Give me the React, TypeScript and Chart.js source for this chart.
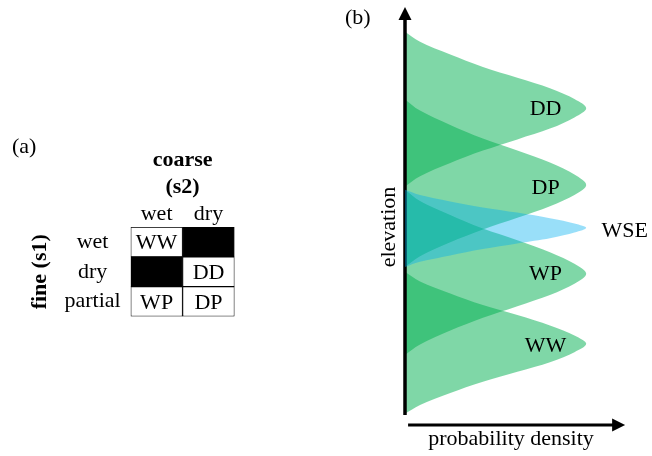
import { useEffect, useRef } from 'react';
import { Chart, registerables } from 'chart.js';

Chart.register(...registerables);

const FONT = "'Liberation Serif', 'Times New Roman', serif";

// ---------- Panel (a): state table ----------
const rowLabels = ['wet', 'dry', 'partial'];
const columnLabels = ['wet', 'dry'];
const columnTickValues = [0.5, 1.5];
const wetColumnRange = [0, 1];
const dryColumnRange = [1, 2];
const wetColumnCells = ['WW', '', 'WP'];
const dryColumnCells = ['', 'DD', 'DP'];
const wetColumnBlocked = [false, true, false];
const dryColumnBlocked = [true, false, false];
const rowAxisTitle = 'fine (s1)';
const columnAxisTitle = ['coarse', '(s2)'];

// ---------- Panel (b): probability density vs elevation ----------
const profileDensity = [0, 0.083, 0.25, 0.43, 0.62, 0.8, 0.935, 1, 0.935, 0.8, 0.62, 0.43, 0.25, 0.083, 0];
const ddElevation = [98.3, 95.8, 92.6, 89.5, 86.8, 84.2, 81.5, 79.2, 76.9, 74.1, 71.4, 68.6, 65.5, 62.2, 59.6];
const dpElevation = [81.4, 78.6, 75.0, 71.6, 68.6, 65.6, 62.6, 60.0, 57.5, 54.7, 51.8, 48.9, 45.7, 42.2, 39.5];
const wseElevation = [58.8, 57.5, 55.9, 54.4, 53.1, 51.7, 50.4, 49.3, 48.1, 46.7, 45.4, 44.0, 42.4, 40.8, 39.5];
const wpElevation = [58.8, 56.0, 52.5, 49.1, 46.2, 43.2, 40.3, 37.8, 35.3, 32.5, 29.7, 26.8, 23.6, 20.1, 17.5];
const wwElevation = [38.3, 35.9, 32.9, 30.0, 27.5, 24.9, 22.4, 20.3, 18.2, 15.7, 13.3, 10.8, 8.0, 5.0, 2.8];
const curveLabels = ['DD', 'DP', 'WSE', 'WP', 'WW'];
const curveLabelDensity = [0.776, 0.776, 1.213, 0.776, 0.776];
const curveLabelElevation = [79.4, 59.6, 48.95, 38.1, 20.2];
const densityMax = 1.17;
const elevationMax = 99;
const elevationAxisExtent = [2.5, 104.5];
const densityAxisExtent = [0.017, 1.215];

const GREEN = 'rgba(0, 176, 80, 0.5)';
const BLUE = 'rgba(0, 176, 240, 0.4)';

const toPoints = (elev: number[]) => profileDensity.map((d, i) => ({ x: d, y: elev[i] }));

export default function App() {
  const aRef = useRef<HTMLCanvasElement>(null);
  const bRef = useRef<HTMLCanvasElement>(null);

  useEffect(() => {
    Chart.defaults.font.family = FONT;
    Chart.defaults.color = '#000';

    const cellTextPlugin = {
      id: 'cellText',
      afterDatasetsDraw(chart: any) {
        const ctx = chart.ctx;
        const texts = [wetColumnCells, dryColumnCells];
        ctx.save();
        ctx.fillStyle = '#000';
        ctx.font = `22px ${FONT}`;
        ctx.textAlign = 'center';
        ctx.textBaseline = 'alphabetic';
        texts.forEach((col, di) => {
          const meta = chart.getDatasetMeta(di);
          meta.data.forEach((bar: any, i: number) => {
            const t = col[i];
            if (!t) return;
            const c = bar.getCenterPoint();
            ctx.fillText(t, c.x, c.y + 7.3);
          });
        });
        ctx.textAlign = 'left';
        ctx.fillText('(a)', 12, 152.5);
        ctx.restore();
      },
    };

    const chartA = new Chart(aRef.current!, {
      type: 'bar',
      data: {
        labels: rowLabels,
        datasets: [
          {
            label: columnLabels[0],
            data: rowLabels.map(() => wetColumnRange) as any,
            backgroundColor: wetColumnBlocked.map((b) => (b ? '#000' : '#fff')),
          },
          {
            label: columnLabels[1],
            data: rowLabels.map(() => dryColumnRange) as any,
            backgroundColor: dryColumnBlocked.map((b) => (b ? '#000' : '#fff')),
          },
        ],
      },
      options: {
        indexAxis: 'y',
        responsive: false,
        animation: false,
        events: [],
        layout: { padding: { left: 26.8, top: 147.4, right: 105.5, bottom: 139.5 } },
        datasets: {
          bar: {
            barPercentage: 1,
            categoryPercentage: 1,
            grouped: false,
            borderWidth: 1,
            borderColor: '#000',
            borderSkipped: false,
          },
        },
        plugins: { legend: { display: false }, tooltip: { enabled: false } },
        scales: {
          y: {
            type: 'category',
            grid: { display: false, drawTicks: false },
            border: { display: false },
            ticks: { crossAlign: 'center', padding: 10, color: '#000', font: { size: 22, family: FONT } },
            title: {
              display: true,
              text: rowAxisTitle,
              color: '#000',
              font: { size: 22, weight: 'bold', family: FONT },
              padding: { top: 0, bottom: 11.6 },
            },
          },
          x: {
            type: 'linear',
            position: 'top',
            min: 0,
            max: 2,
            grid: { display: false, drawTicks: false },
            border: { display: false },
            afterBuildTicks: (scale: any) => {
              scale.ticks = columnTickValues.map((v) => ({ value: v }));
            },
            ticks: {
              padding: 0,
              maxRotation: 0,
              autoSkip: false,
              color: '#000',
              font: { size: 22, family: FONT },
              callback: (_v: any, i: number) => columnLabels[i],
            },
            title: {
              display: true,
              text: columnAxisTitle,
              color: '#000',
              font: { size: 22, weight: 'bold', family: FONT },
              padding: { top: 0, bottom: 0.4 },
            },
          },
        },
      } as any,
      plugins: [cellTextPlugin],
    });

    const drawAxes = (chart: any) => {
      const { ctx } = chart;
      const xs = chart.scales.x;
      const ys = chart.scales.y;
      const x0 = xs.getPixelForValue(0);
      const y0 = ys.getPixelForValue(0);
      const yBottom = ys.getPixelForValue(elevationAxisExtent[0]);
      const yTip = ys.getPixelForValue(elevationAxisExtent[1]);
      const xStart = xs.getPixelForValue(densityAxisExtent[0]);
      const xTip = xs.getPixelForValue(densityAxisExtent[1]);
      const head = 13;
      const half = 6.5;
      ctx.save();
      ctx.strokeStyle = '#000';
      ctx.fillStyle = '#000';
      ctx.lineWidth = 3.5;
      ctx.beginPath();
      ctx.moveTo(x0, yBottom);
      ctx.lineTo(x0, yTip + head - 1);
      ctx.stroke();
      ctx.beginPath();
      ctx.moveTo(x0, yTip);
      ctx.lineTo(x0 - half, yTip + head);
      ctx.lineTo(x0 + half, yTip + head);
      ctx.closePath();
      ctx.fill();
      ctx.lineWidth = 3;
      ctx.beginPath();
      ctx.moveTo(xStart, y0);
      ctx.lineTo(xTip - head + 1, y0);
      ctx.stroke();
      ctx.beginPath();
      ctx.moveTo(xTip, y0);
      ctx.lineTo(xTip - head, y0 - half);
      ctx.lineTo(xTip - head, y0 + half);
      ctx.closePath();
      ctx.fill();
      ctx.restore();
    };

    const axesPlugin = {
      id: 'axesArrows',
      afterDatasetDraw(chart: any, args: any) {
        if (args.index === 1) drawAxes(chart);
      },
      afterDraw(chart: any) {
        const { ctx } = chart;
        const xs = chart.scales.x;
        const ys = chart.scales.y;
        ctx.save();
        ctx.fillStyle = '#000';
        ctx.font = `22px ${FONT}`;
        ctx.textAlign = 'center';
        ctx.textBaseline = 'alphabetic';
        curveLabels.forEach((t, i) => {
          ctx.fillText(t, xs.getPixelForValue(curveLabelDensity[i]), ys.getPixelForValue(curveLabelElevation[i]) + 7.3);
        });
        ctx.textAlign = 'left';
        ctx.fillText('(b)', 5, 24.3);
        ctx.restore();
      },
    };

    const shape = (label: string, elev: number[], color: string) => ({
      label,
      data: toPoints(elev),
      backgroundColor: color,
      borderColor: 'rgba(0,0,0,0)',
      borderWidth: 0,
      pointRadius: 0,
      cubicInterpolationMode: 'monotone',
      fill: 'shape',
    });

    const chartB = new Chart(bRef.current!, {
      type: 'line',
      data: {
        datasets: [
          shape('WSE', wseElevation, BLUE),
          shape('DD', ddElevation, GREEN),
          shape('DP', dpElevation, GREEN),
          shape('WP', wpElevation, GREEN),
          shape('WW', wwElevation, GREEN),
        ],
      },
      options: {
        indexAxis: 'y',
        responsive: false,
        animation: false,
        events: [],
        layout: { padding: { left: 35.8, right: 35, top: 29, bottom: 0 } },
        plugins: { legend: { display: false }, tooltip: { enabled: false } },
        scales: {
          x: {
            type: 'linear',
            position: 'bottom',
            min: 0,
            max: densityMax,
            grid: { display: false, drawTicks: false },
            border: { display: false },
            ticks: { display: false },
            title: {
              display: true,
              text: 'probability density',
              color: '#000',
              font: { size: 22, family: FONT },
              padding: { top: 1.4, bottom: 3.2 },
            },
          },
          y: {
            type: 'linear',
            position: 'left',
            min: 0,
            max: elevationMax,
            grid: { display: false, drawTicks: false },
            border: { display: false },
            ticks: { display: false },
            title: {
              display: true,
              text: 'elevation',
              color: '#000',
              font: { size: 22, family: FONT },
              padding: { top: 0, bottom: 2.8 },
            },
          },
        },
      } as any,
      plugins: [axesPlugin],
    });

    return () => {
      chartA.destroy();
      chartB.destroy();
    };
  }, []);

  return (
    <div style={{ position: 'fixed', left: 0, top: 0, width: 652, height: 456, background: '#fff' }}>
      <canvas
        ref={aRef}
        width={340}
        height={456}
        style={{ position: 'absolute', left: 0, top: 0, width: 340, height: 456 }}
      />
      <canvas
        ref={bRef}
        width={312}
        height={456}
        style={{ position: 'absolute', left: 340, top: 0, width: 312, height: 456 }}
      />
    </div>
  );
}
